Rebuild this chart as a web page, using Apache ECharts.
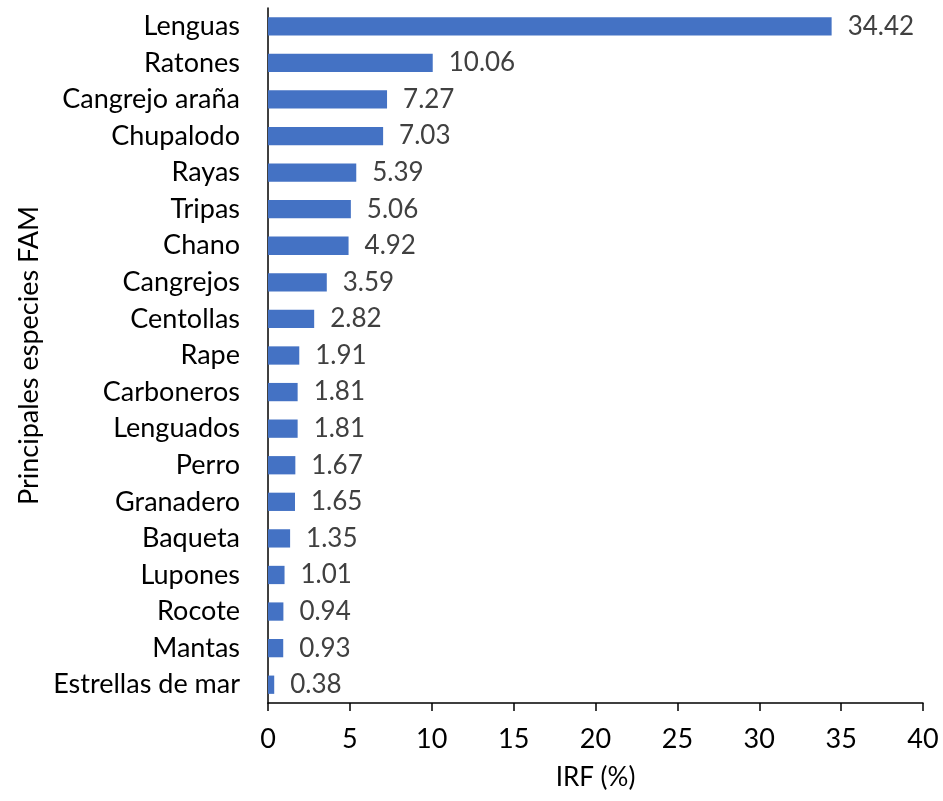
<!DOCTYPE html>
<html>
<head>
<meta charset="utf-8">
<script src="https://cdn.jsdelivr.net/npm/echarts@6/dist/echarts.min.js"></script>
<style>html,body{margin:0;padding:0;background:#fff}#c{width:943px;height:801px}</style>
</head>
<body>
<div id="c"></div>
<script>
var categories = ["Lenguas","Ratones","Cangrejo araña","Chupalodo","Rayas","Tripas","Chano","Cangrejos","Centollas","Rape","Carboneros","Lenguados","Perro","Granadero","Baqueta","Lupones","Rocote","Mantas","Estrellas de mar"];
var values = [34.42,10.06,7.27,7.03,5.39,5.06,4.92,3.59,2.82,1.91,1.81,1.81,1.67,1.65,1.35,1.01,0.94,0.93,0.38];
var xTicks = [0,5,10,15,20,25,30,35,40];

var font = "Lato, 'Open Sans', sans-serif";
var chart = echarts.init(document.getElementById('c'));
chart.setOption({
  animation: false,
  backgroundColor: '#fff',
  grid: {left: 268, right: 20, top: 8, bottom: 98, containLabel: false},
  xAxis: {
    type: 'value', min: xTicks[0], max: xTicks[xTicks.length-1], interval: 5,
    name: 'IRF (%)', nameLocation: 'middle', nameGap: 62,
    nameTextStyle: {fontFamily: font, fontSize: 26, color: '#000'},
    axisLine: {show: true, lineStyle: {color: '#000', width: 1.5}},
    axisTick: {show: true, length: 8, lineStyle: {color: '#000', width: 1.5}},
    axisLabel: {fontFamily: font, fontSize: 27, color: '#000', margin: 23},
    splitLine: {show: false}
  },
  yAxis: {
    type: 'category', data: categories, inverse: true,
    name: 'Principales especies FAM', nameLocation: 'middle', nameGap: 225, nameRotate: 90,
    nameTextStyle: {fontFamily: font, fontSize: 27, color: '#000'},
    axisLine: {show: true, lineStyle: {color: '#000', width: 1.5}},
    axisTick: {show: false},
    axisLabel: {fontFamily: font, fontSize: 27, color: '#000', margin: 28}
  },
  series: [{
    type: 'bar', data: values, barWidth: '50%',
    itemStyle: {color: '#4472C4'},
    label: {show: true, position: 'right', distance: 16, fontFamily: font, fontSize: 26, color: '#404040',
      formatter: function(p){ return p.value.toFixed(2); }}
  }]
});
</script>
</body>
</html>
